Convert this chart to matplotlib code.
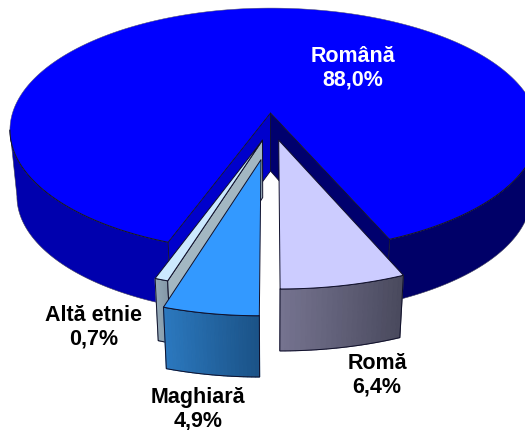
import numpy as np
import matplotlib
matplotlib.use("Agg")
import matplotlib.pyplot as plt
from matplotlib.patches import Polygon

plt.rcParams['font.family'] = ['Liberation Sans', 'DejaVu Sans']

labels = ["Română", "Romă", "Maghiară", "Altă etnie"]
values = [88.0, 6.4, 4.9, 0.7]

# perspective of the pie plane, in pixels
CX, CY = 270.5, 113.0
A_LEFT, A_RIGHT, B, K = 258.0, 265.0, 119.6, 0.14
VANISH_Y, DEPTH = 2600.0, 0.0268
POST = 0.87  # the centre post looks shorter than the front rim

# sideways / forward shift of the pulled out slices
explode = {"Romă": (0.03, 0.22), "Maghiară": (-0.035, 0.37), "Altă etnie": (-0.03, 0.22)}


def project(u, v, low=False):
    w = 1 - K * v
    x = CX + np.where(u > 0, A_RIGHT, A_LEFT) * u / w
    y = CY + B * v / w
    if low:
        x = x + (CX - x) * DEPTH
        y = y + (VANISH_Y - y) * DEPTH
    return np.column_stack([np.atleast_1d(x), np.atleast_1d(y)])


def rim(t0, t1, shift=(0, 0), low=False, n=200):
    # angle measured from the front of the pie, positive to the right
    t = np.linspace(t0, t1, n)
    return project(np.sin(t) + shift[0], np.cos(t) + shift[1], low)


def apex(shift=(0, 0), low=False):
    top = project(np.array([shift[0]], float), np.array([shift[1]], float))
    if low:
        bot = project(np.array([shift[0]], float), np.array([shift[1]], float), True)
        return top + (bot - top) * POST
    return top


def poly(ax, pts, fc, ec="#10102a", lw=0.7, z=1):
    ax.add_patch(Polygon(pts, closed=True, fc=fc, ec=ec, lw=lw, zorder=z, joinstyle="round"))


def wall(ax, t0, t1, shift, c0, c1, z, n=24):
    # outer wall, shaded in strips from c0 to c1
    c0 = np.array(matplotlib.colors.to_rgb(c0))
    c1 = np.array(matplotlib.colors.to_rgb(c1))
    top = rim(t0, t1, shift, n=n + 1)
    bot = rim(t0, t1, shift, low=True, n=n + 1)
    for i in range(n):
        col = c0 + (c1 - c0) * i / (n - 1)
        q = [top[i], top[i + 1], bot[i + 1], bot[i]]
        ax.add_patch(Polygon(q, closed=True, fc=col, ec=col, lw=0.8, zorder=z))
    ax.add_patch(Polygon(np.vstack([top, bot[::-1]]), closed=True, fill=False, ec="#10102a", lw=0.7, zorder=z))


fig = plt.figure(figsize=(5.25, 4.3), dpi=100)
ax = fig.add_axes([0, 0, 1, 1])
ax.set_xlim(0, 525)
ax.set_ylim(430, 0)
ax.axis("off")

angles = np.radians(np.array(values) * 3.6)
a_roma = angles[1]
a_magh = -angles[2]
a_alta = a_magh - angles[3]

# main slice goes the long way round, from the right edge of Romă to the left edge of Altă etnie
t0_main, t1_main = a_roma, 2 * np.pi + a_alta

# outer wall, right part then left part, up to where the rim turns away
side = np.arccos(K)
poly(ax, np.vstack([rim(a_roma, side), rim(a_roma, side, low=True)[::-1]]), "#000068", ec="#40405a", lw=0.4, z=1)
poly(ax, np.vstack([rim(-side, a_alta), rim(-side, a_alta, low=True)[::-1]]), "#0000AE", ec="#40405a", lw=0.4, z=1)

# top face, soft edge at the back and dark line along the front
main_top = np.vstack([apex(), rim(t0_main, t1_main, n=500)])
poly(ax, main_top, "#0000FF", ec="#50506a", lw=0.35, z=2)
for pts in (rim(a_roma, side), rim(-side, a_alta)):
    ax.plot(pts[:, 0], pts[:, 1], color="#10102a", lw=0.7, zorder=2)

# the two cut faces, meeting at the centre post
centre = apex()[0]
centre_low = apex(low=True)[0]
right_top, right_low = rim(a_roma, a_roma, n=1)[0], rim(a_roma, a_roma, low=True, n=1)[0]
left_top, left_low = rim(a_alta, a_alta, n=1)[0], rim(a_alta, a_alta, low=True, n=1)[0]
poly(ax, [centre, right_top, right_low, centre_low], "#00006E", ec="#10102a", lw=0.6, z=3)
poly(ax, [centre, left_top, left_low, centre_low], "#0000CC", ec="#10102a", lw=0.6, z=3)

# Altă etnie
s = explode["Altă etnie"]
wall(ax, a_alta, a_magh, s, "#93A9B8", "#8599A8", 4)
p, pl = apex(s)[0], apex(s, low=True)[0]
e, el = rim(a_magh, a_magh, s, n=1)[0], rim(a_magh, a_magh, s, low=True, n=1)[0]
poly(ax, [p, e, el, pl], "#A3B7C2", z=4)
poly(ax, np.vstack([apex(s), rim(a_alta, a_magh, s, n=20)]), "#CCE9FF", z=5)

# Maghiară
s = explode["Maghiară"]
wall(ax, a_magh, 0, s, "#2B78BE", "#1B5388", 6)
poly(ax, np.vstack([apex(s), rim(a_magh, 0, s)]), "#3399FF", z=7)

# Romă
s = explode["Romă"]
wall(ax, 0, a_roma, s, "#75738F", "#4A4A5E", 6)
poly(ax, np.vstack([apex(s), rim(0, a_roma, s)]), "#CCCCFF", z=7)

fs = 15.5
ls = 1.17
ax.text(352.5, 68, f"{labels[0]}\n{values[0]:.1f}%".replace(".", ","), color="white", fontsize=fs,
        fontweight="bold", ha="center", va="center", linespacing=ls, zorder=10)
ax.text(377, 375.5, f"{labels[1]}\n{values[1]:.1f}%".replace(".", ","), color="black", fontsize=fs,
        fontweight="bold", ha="center", va="center", linespacing=ls, zorder=10)
ax.text(198, 409, f"{labels[2]}\n{values[2]:.1f}%".replace(".", ","), color="black", fontsize=fs,
        fontweight="bold", ha="center", va="center", linespacing=ls, zorder=10)
ax.text(93.5, 327.5, f"{labels[3]}\n{values[3]:.1f}%".replace(".", ","), color="black", fontsize=fs,
        fontweight="bold", ha="center", va="center", linespacing=ls, zorder=10)

fig.savefig("out.png", dpi=100)
